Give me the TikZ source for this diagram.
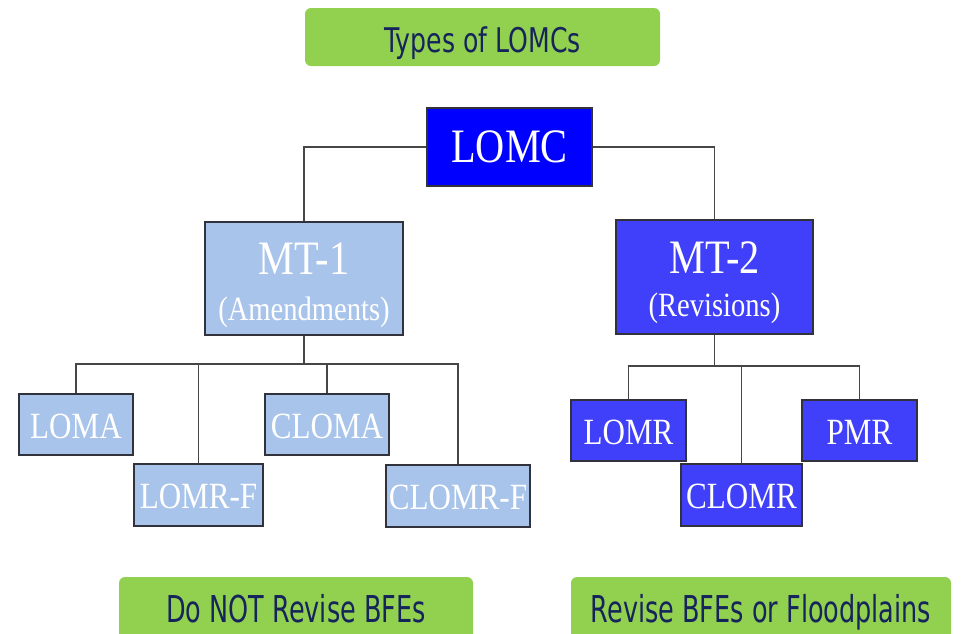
\documentclass[tikz,border=0pt]{standalone}
\usepackage{fontspec}
\usepackage{graphicx}
\setmainfont{Liberation Serif}
\newfontfamily\greenfont{DejaVu Sans}
\definecolor{lomcblue}{RGB}{0,0,255}
\definecolor{midblue}{RGB}{64,64,250}
\definecolor{lightblue}{RGB}{168,196,234}
\definecolor{lgreen}{RGB}{146,208,80}
\definecolor{navytext}{RGB}{22,36,92}
\definecolor{boxedge}{RGB}{50,50,60}
\definecolor{wirecol}{RGB}{70,70,70}
\newcommand{\sqz}[1]{\scalebox{0.84}[1]{#1}}
\tikzset{
  box/.style={draw=boxedge, line width=1.3pt, inner sep=0pt, text=white},
  lbox/.style={box, fill=lightblue},
  dbox/.style={box, fill=midblue},
  smalltxt/.style={font=\fontsize{37}{37}\selectfont, text height=27pt, text depth=0pt},
  bigtxt/.style={font=\fontsize{48}{48}\selectfont},
  subtxt/.style={font=\fontsize{34}{34}\selectfont},
  gbox/.style={fill=lgreen, rounded corners=6pt, inner sep=0pt, text=navytext},
  wire/.style={draw=wirecol, line width=1.3pt},
}
\begin{document}
\begin{tikzpicture}[x=1pt, y=-1pt]
\useasboundingbox (0,0) rectangle (966,633);
\clip (0,0) rectangle (966,633);

% green labels
\node[gbox, minimum width=355pt, minimum height=58pt,
      font=\greenfont\fontsize{34}{34}\selectfont, text height=30pt, text depth=0pt]
      (title) at (482.5,37) {\scalebox{0.74}[1]{Types of LOMCs}};
\node[gbox, minimum width=354pt, minimum height=72pt,
      font=\greenfont\fontsize{37}{37}\selectfont, text height=18pt, text depth=0pt]
      (notrev) at (296,613) {\scalebox{0.69}[1]{Do NOT Revise BFEs}};
\node[gbox, minimum width=380pt, minimum height=72pt,
      font=\greenfont\fontsize{37}{37}\selectfont, text height=18pt, text depth=0pt]
      (rev) at (761,613) {\scalebox{0.69}[1]{Revise BFEs or Floodplains}};

% top
\node[box, fill=lomcblue, minimum width=165pt, minimum height=78pt, bigtxt,
      text height=30pt, text depth=0pt] (lomc) at (509.5,147) {\sqz{LOMC}};

% MT-1 / MT-2
\node[lbox, minimum width=198pt, minimum height=113pt] (mt1) at (304,278.5) {};
\node[dbox, minimum width=197pt, minimum height=114pt] (mt2) at (714.5,277) {};
\node[anchor=base, bigtxt, text=white, inner sep=0pt] (mt1a) at (304,274) {\sqz{MT-1}};
\node[anchor=base, subtxt, text=white, inner sep=0pt] (mt1b) at (304,320) {\sqz{(Amendments)}};
\node[anchor=base, bigtxt, text=white, inner sep=0pt] (mt2a) at (714.5,273) {\sqz{MT-2}};
\node[anchor=base, subtxt, text=white, inner sep=0pt] (mt2b) at (714.5,316) {\sqz{(Revisions)}};

% MT-1 children
\node[lbox, smalltxt, minimum width=114pt, minimum height=61pt] (loma) at (76,424.5) {\sqz{LOMA}};
\node[lbox, smalltxt, minimum width=129pt, minimum height=62pt] (lomrf) at (198.5,495) {\sqz{LOMR-F}};
\node[lbox, smalltxt, minimum width=124pt, minimum height=61pt] (cloma) at (327,424.5) {\sqz{CLOMA}};
\node[lbox, smalltxt, minimum width=144pt, minimum height=62pt] (clomrf) at (458,496) {\sqz{CLOMR-F}};

% MT-2 children
\node[dbox, smalltxt, minimum width=115pt, minimum height=61pt] (lomr) at (628.5,430.5) {\sqz{LOMR}};
\node[dbox, smalltxt, minimum width=121pt, minimum height=62pt] (clomr) at (741.5,495) {\sqz{CLOMR}};
\node[dbox, smalltxt, minimum width=115pt, minimum height=61pt] (pmr) at (859.5,430.5) {\sqz{PMR}};

% connectors
\draw[wire] (lomc.west) -| (mt1.north);
\draw[wire] (lomc.east) -| (mt2.north);
\coordinate (busL) at (0,364);
\coordinate (busR) at (0,366);
\draw[wire] (mt1.south) -- (mt1.south |- busL);
\draw[wire] (loma.north) -- (loma.north |- busL) -- (clomrf.north |- busL) -- (clomrf.north);
\draw[wire] (lomrf.north) -- (lomrf.north |- busL);
\draw[wire] (cloma.north) -- (cloma.north |- busL);
\draw[wire] (mt2.south) -- (mt2.south |- busR);
\draw[wire] (lomr.north) -- (lomr.north |- busR) -- (pmr.north |- busR) -- (pmr.north);
\draw[wire] (clomr.north) -- (clomr.north |- busR);
\end{tikzpicture}
\end{document}
